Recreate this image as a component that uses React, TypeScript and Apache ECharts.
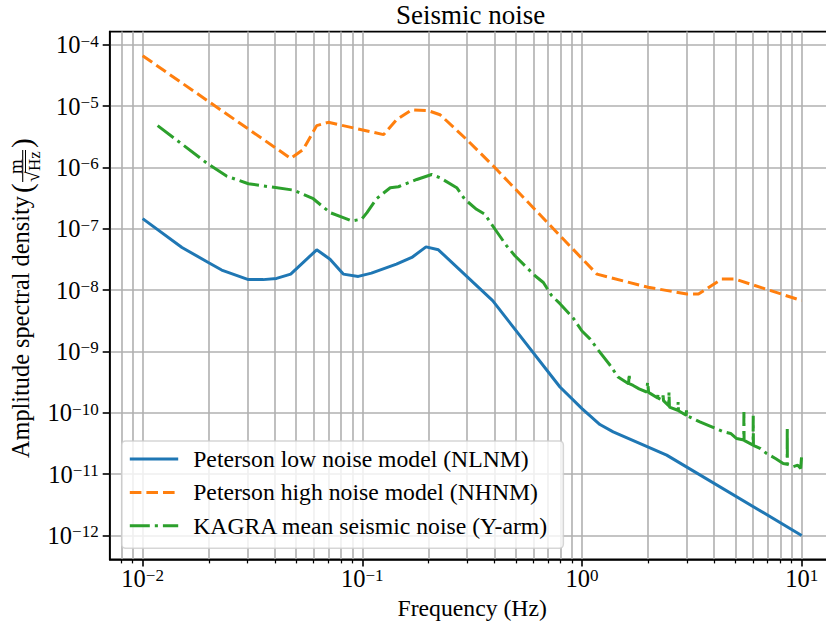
import React, { useEffect, useRef } from 'react';
import * as echarts from 'echarts';

// ---- data ----
const nlnmFreq = [0.01, 0.0151, 0.0199, 0.0229, 0.0303, 0.0354, 0.0407, 0.0472, 0.062, 0.0713, 0.0819, 0.0959, 0.11, 0.143, 0.168, 0.195, 0.222, 0.392, 0.794, 1.0, 1.207, 1.387, 2.43, 10];
const nlnmAsd = [1.46e-7, 4.94e-8, 2.82e-8, 2.12e-8, 1.48e-8, 1.48e-8, 1.55e-8, 1.82e-8, 4.53e-8, 3.19e-8, 1.82e-8, 1.67e-8, 1.89e-8, 2.65e-8, 3.4e-8, 5.06e-8, 4.53e-8, 6.73e-9, 2.63e-10, 1.17e-10, 6.43e-11, 4.89e-11, 2.04e-11, 1.0e-12];

const nhnmFreq = [0.01, 0.0472, 0.0538, 0.062, 0.07, 0.125, 0.143, 0.168, 0.2, 0.226, 0.299, 0.395, 0.6, 0.794, 0.912, 1.17, 2.0, 3.0, 3.39, 4.32, 4.97, 10];
const nhnmAsd = [6.6e-5, 1.4e-6, 1.95e-6, 4.79e-6, 5.42e-6, 3.42e-6, 5.98e-6, 8.69e-6, 8.37e-6, 7.21e-6, 2.83e-6, 1.05e-6, 2.2e-7, 7.7e-8, 4.6e-8, 1.82e-8, 1.11e-8, 8.63e-9, 8.63e-9, 1.51e-8, 1.51e-8, 6.73e-9];

const kagraFreq = [0.0117, 0.0195, 0.0241, 0.0303, 0.0485, 0.0598, 0.0713, 0.0819, 0.0894, 0.0993, 0.105, 0.116, 0.134, 0.146, 0.177, 0.207, 0.226, 0.269, 0.293, 0.331, 0.361, 0.402, 0.454, 0.495, 0.56, 0.611, 0.667, 0.728, 0.794, 0.912, 1.0, 1.087, 1.186, 1.34, 1.46, 1.63, 1.64, 1.65, 1.71, 1.82, 1.97, 1.99, 2.01, 2.21, 2.22, 2.23, 2.33, 2.34, 2.35, 2.48, 2.49, 2.5, 2.73, 2.74, 2.75, 2.98, 2.99, 3.0, 3.44, 3.9, 4.4, 4.75, 5.06, 5.45, 5.46, 5.47, 6.01, 6.02, 6.03, 6.5, 6.93, 7.6, 8.24, 8.59, 8.6, 8.61, 9.16, 9.6, 9.9, 9.95, 10.0];
const kagraAsd = [4.79e-6, 1.19e-6, 7.2e-7, 5.4e-7, 4.26e-7, 3.08e-7, 1.83e-7, 1.52e-7, 1.34e-7, 1.43e-7, 1.83e-7, 3.08e-7, 4.66e-7, 4.83e-7, 6.35e-7, 7.66e-7, 6.76e-7, 4.66e-7, 3.01e-7, 2.07e-7, 1.72e-7, 9.8e-8, 5.26e-8, 3.62e-8, 2.34e-8, 1.71e-8, 1.33e-8, 8.1e-9, 6.0e-9, 3.5e-9, 2.15e-9, 1.6e-9, 1.05e-9, 6.0e-10, 3.82e-10, 2.97e-10, 4.32e-10, 2.95e-10, 2.79e-10, 2.45e-10, 2.18e-10, 3.17e-10, 2.15e-10, 1.74e-10, 2.05e-10, 1.72e-10, 1.6e-10, 1.92e-10, 1.58e-10, 1.3e-10, 2.18e-10, 1.24e-10, 1.1e-10, 1.5e-10, 1.08e-10, 9.1e-11, 1.1e-10, 9.0e-11, 7.1e-11, 5.9e-11, 4.89e-11, 4.6e-11, 3.8e-11, 3.6e-11, 1.03e-10, 3.55e-11, 2.97e-11, 8.9e-11, 2.95e-11, 2.6e-11, 2.17e-11, 1.8e-11, 1.49e-11, 1.45e-11, 5.9e-11, 1.45e-11, 1.32e-11, 1.4e-11, 1.24e-11, 1.22e-11, 2.0e-11];

const seriesNames = [
  'Peterson low noise model (NLNM)',
  'Peterson high noise model (NHNM)',
  'KAGRA mean seismic noise (Y-arm)',
];
const xMajorTicks = [0.01, 0.1, 1, 10];
const xMinorTicks = [0.008, 0.009, 0.02, 0.03, 0.04, 0.05, 0.06, 0.07, 0.08, 0.09, 0.2, 0.3, 0.4, 0.5, 0.6, 0.7, 0.8, 0.9, 2, 3, 4, 5, 6, 7, 8, 9];
const yMajorTicks = [1e-12, 1e-11, 1e-10, 1e-9, 1e-8, 1e-7, 1e-6, 1e-5, 1e-4];

const FONT = '"Liberation Serif", "Times New Roman", serif';
const X_MIN = Math.pow(10, -2.15);
const X_MAX = Math.pow(10, 1.15);
const Y_MIN = Math.pow(10, -12.39);
const Y_MAX = Math.pow(10, -3.787);

const pairs = (xs: number[], ys: number[]) => xs.map((x, i) => [x, ys[i]]);
const powLabel = (v: number) => {
  const e = Math.round(Math.log10(v));
  return `{b|10}{s|${e < 0 ? '\u2212' + -e : e}}`;
};
const labelRich = {
  b: { fontFamily: FONT, fontSize: 24.5, lineHeight: 24, color: '#000' },
  s: { fontFamily: FONT, fontSize: 17, lineHeight: 13, verticalAlign: 'top', color: '#000' },
};
const GRID_COLOR = '#b0b0b0';

export default function App() {
  const ref = useRef<HTMLDivElement>(null);
  useEffect(() => {
    if (!ref.current) return;
    const chart = echarts.init(ref.current, null, { renderer: 'svg' });
    const option: any = {
      animation: false,
      backgroundColor: '#fff',
      title: {
        text: 'Seismic noise',
        left: 396,
        top: 2.2,
        padding: 0,
        textStyle: { fontFamily: FONT, fontSize: 27, lineHeight: 26, fontWeight: 'normal', color: '#000' },
      },
      grid: {
        left: 109.7,
        top: 31.6,
        width: 724.9,
        height: 529.7,
        show: true,
        borderColor: '#000',
        borderWidth: 1.6,
        backgroundColor: 'transparent',
      },
      legend: {
        orient: 'vertical',
        left: 121.7,
        top: 441,
        padding: [6, 8, 8, 6.6],
        itemWidth: 48.4,
        itemHeight: 24,
        itemGap: 9.4,
        selectedMode: false,
        itemStyle: { opacity: 0, borderWidth: 0 },
        lineStyle: { width: 3 },
        textStyle: { fontFamily: FONT, fontSize: 23.7, color: '#000', lineHeight: 24, padding: [0, 0, 0, 10] },
        data: seriesNames,
      },
      xAxis: [
        {
          type: 'log',
          logBase: 10,
          min: X_MIN,
          max: X_MAX,
          position: 'bottom',
          axisLine: { show: true, onZero: false, lineStyle: { color: '#000', width: 1.6 } },
          axisTick: { show: true, customValues: xMajorTicks, length: 7, lineStyle: { color: '#000', width: 1.6 } },
          axisLabel: { customValues: xMajorTicks, formatter: powLabel, margin: 7.2, rich: labelRich, color: '#000' },
          splitLine: { show: true, lineStyle: { color: GRID_COLOR, width: 1.6 } },
          minorTick: { show: false },
          minorSplitLine: { show: false },
          name: 'Frequency (Hz)',
          nameLocation: 'middle',
          nameGap: 34,
          nameTextStyle: { fontFamily: FONT, fontSize: 23.7, color: '#000' },
        },
        {
          type: 'log',
          logBase: 10,
          min: X_MIN,
          max: X_MAX,
          position: 'bottom',
          axisLine: { show: false },
          axisTick: { show: true, customValues: xMinorTicks, length: 4, lineStyle: { color: '#000', width: 1.25 } },
          axisLabel: { show: false },
          splitLine: { show: true, lineStyle: { color: GRID_COLOR, width: 1.6 } },
          minorTick: { show: false },
          minorSplitLine: { show: false },
        },
      ],
      yAxis: {
        type: 'log',
        logBase: 10,
        min: Y_MIN,
        max: Y_MAX,
        axisLine: { show: true, onZero: false, lineStyle: { color: '#000', width: 1.6 } },
        axisTick: { show: true, customValues: yMajorTicks, length: 7, lineStyle: { color: '#000', width: 1.6 } },
        axisLabel: { customValues: yMajorTicks, formatter: powLabel, margin: 11, rich: labelRich, color: '#000' },
        splitLine: { show: true, lineStyle: { color: GRID_COLOR, width: 1.6 } },
        minorTick: { show: false },
        minorSplitLine: { show: false },
      },
      graphic: [
        {
          type: 'rect',
          z: 3,
          shape: { x: 121.7, y: 441, width: 441.6, height: 107.3, r: 4 },
          style: { fill: 'rgba(255,255,255,0.8)', stroke: 'rgba(204,204,204,0.8)', lineWidth: 1.6 },
        },
        {
          type: 'group',
          x: 20.5,
          y: 296,
          rotation: Math.PI / 2,
          z: 5,
          children: [
            {
              type: 'text', x: -162, y: 0,
              style: { text: 'Amplitude spectral density', font: `24.3px ${FONT}`, fill: '#000', textAlign: 'left', textVerticalAlign: 'middle' },
            },
            {
              type: 'text', x: 103, y: 1.5,
              style: { text: '(', font: `29px ${FONT}`, fill: '#000', textAlign: 'left', textVerticalAlign: 'middle' },
            },
            {
              type: 'text', x: 129.5, y: -5.5,
              style: { text: 'm', font: `19px ${FONT}`, fill: '#000', textAlign: 'center', textVerticalAlign: 'middle' },
            },
            {
              type: 'line',
              shape: { x1: 114, y1: 2.2, x2: 146, y2: 2.2 },
              style: { stroke: '#000', lineWidth: 1.1 },
            },
            {
              type: 'text', x: 114, y: 12,
              style: { text: '\u221A', font: `19px ${FONT}`, fill: '#000', textAlign: 'left', textVerticalAlign: 'middle' },
            },
            {
              type: 'line',
              shape: { x1: 124, y1: 5, x2: 146, y2: 5 },
              style: { stroke: '#000', lineWidth: 1 },
            },
            {
              type: 'text', x: 125, y: 13.5,
              style: { text: 'Hz', font: `17px ${FONT}`, fill: '#000', textAlign: 'left', textVerticalAlign: 'middle' },
            },
            {
              type: 'text', x: 148, y: 1.5,
              style: { text: ')', font: `29px ${FONT}`, fill: '#000', textAlign: 'left', textVerticalAlign: 'middle' },
            },
          ],
        },
      ],
      series: [
        {
          name: seriesNames[0],
          type: 'line',
          data: pairs(nlnmFreq, nlnmAsd),
          symbol: 'none',
          color: '#1f77b4',
          lineStyle: { color: '#1f77b4', width: 3, type: 'solid' },
          z: 2,
        },
        {
          name: seriesNames[1],
          type: 'line',
          data: pairs(nhnmFreq, nhnmAsd),
          symbol: 'none',
          color: '#ff7f0e',
          lineStyle: { color: '#ff7f0e', width: 3, type: [11.6, 5] },
          z: 2,
        },
        {
          name: seriesNames[2],
          type: 'line',
          data: pairs(kagraFreq, kagraAsd),
          symbol: 'none',
          color: '#2ca02c',
          lineStyle: { color: '#2ca02c', width: 3, type: [20, 5, 3.1, 5] },
          z: 2,
        },
      ],
    };
    chart.setOption(option);
    return () => chart.dispose();
  }, []);
  return (
    <div style={{ position: 'fixed', left: 0, top: 0, width: 826, height: 625, overflow: 'hidden', background: '#fff' }}>
      <div ref={ref} style={{ position: 'absolute', left: 0, top: 0, width: 850, height: 625 }} />
    </div>
  );
}
